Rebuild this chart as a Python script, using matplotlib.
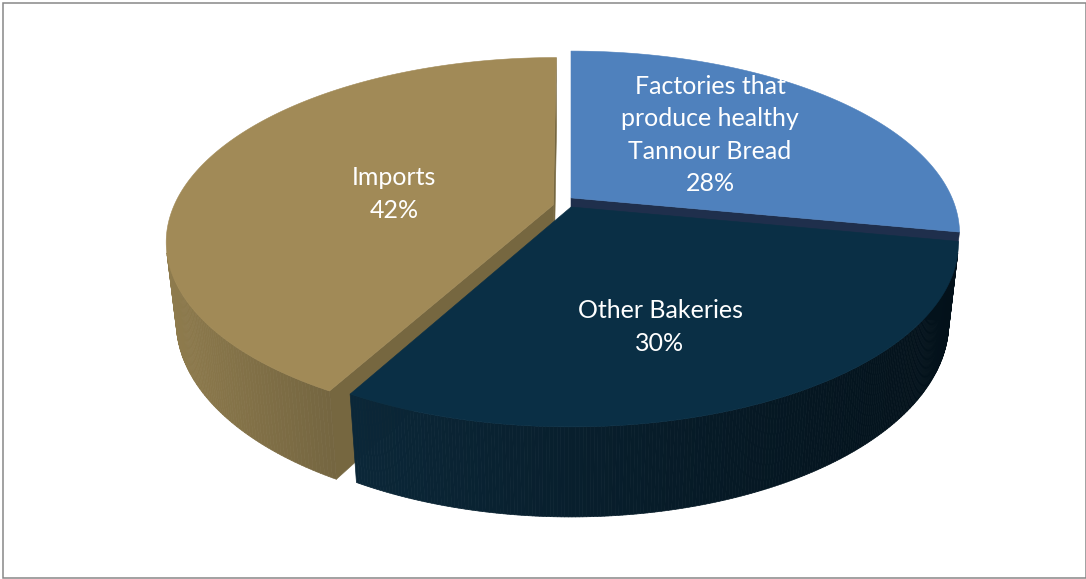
import numpy as np
import matplotlib
matplotlib.use("Agg")
import matplotlib.pyplot as plt
from matplotlib.patches import Polygon, Rectangle
from matplotlib.collections import PolyCollection
from matplotlib.colors import to_rgb

# ---- data ----
categories = ["Factories that\nproduce healthy\nTannour Bread", "Other Bakeries", "Imports"]
shares = [28, 30, 42]

# ---- styling ----
top_colors = ["#4F81BD", "#0A2F45", "#A18A57"]
side_left = ["#3E6696", "#0B2738", "#8E7B4D"]
side_right = ["#2A4A70", "#03111A", "#756641"]
radial_colors = ["#1F2F4C", "#08202F", "#766740"]
explode = [0.0, 0.0, 0.048]
lift = [0.027, 0.0, 0.0]
label_xy = [(710, 135), (660, 327), (394, 194)]

W, H = 1086, 579
fig = plt.figure(figsize=(W / 100, H / 100), dpi=100)
ax = fig.add_axes([0, 0, 1, 1])
ax.set_xlim(0, W)
ax.set_ylim(H, 0)
ax.axis("off")

# perspective camera looking down at the disc
elev = np.radians(27.75)
s, c = np.sin(elev), np.cos(elev)
dist = 4.527
focal = 1720.0
cx, cy = 571.0, 207.0
thick = 0.238
cam = np.array([0.0, -dist * c, dist * s])


def project(X, Y, Z):
    X, Y, Z = np.asarray(X, float), np.asarray(Y, float), np.asarray(Z, float)
    z = dist + Y * c - Z * s
    return cx + focal * X / z, cy - focal * (Y * s + Z * c) / z


def mix(a, b, t):
    a, b = np.array(to_rgb(a)), np.array(to_rgb(b))
    return tuple(a + (b - a) * t)


total = float(sum(shares))
bounds = np.concatenate([[0.0], np.cumsum(shares) / total * 360.0])

# back-to-front drawing order
for i in [0, 2, 1]:
    th0, th1 = np.radians(bounds[i]), np.radians(bounds[i + 1])
    mid = 0.5 * (th0 + th1)
    ox, oy = explode[i] * np.sin(mid), explode[i] * np.cos(mid)
    ztop, zbot = lift[i], -thick

    th = np.linspace(th0, th1, 240)
    rx, ry = ox + np.sin(th), oy + np.cos(th)

    # radial walls
    for edge, sign in ((th0, -1.0), (th1, 1.0)):
        n = sign * np.array([np.cos(edge), -np.sin(edge), 0.0])
        apex = np.array([ox, oy, 0.0])
        if np.dot(n, cam - apex) <= 0:
            continue
        ex, ey = ox + np.sin(edge), oy + np.cos(edge)
        X = [ox, ex, ex, ox]
        Y = [oy, ey, ey, oy]
        Z = [ztop, ztop, zbot, zbot]
        px, py = project(X, Y, Z)
        ax.add_patch(Polygon(np.c_[px, py], closed=True, facecolor=radial_colors[i],
                             edgecolor=radial_colors[i], lw=0.4))

    # outer curved wall as thin strips, shaded left-to-right
    quads, visible_x = [], []
    for a, b in zip(th[:-1], th[1:]):
        m = 0.5 * (a + b)
        n = np.array([np.sin(m), np.cos(m), 0.0])
        p = np.array([ox + np.sin(m), oy + np.cos(m), 0.0])
        if np.dot(n, cam - p) <= 0:
            continue
        X = [ox + np.sin(a), ox + np.sin(b), ox + np.sin(b), ox + np.sin(a)]
        Y = [oy + np.cos(a), oy + np.cos(b), oy + np.cos(b), oy + np.cos(a)]
        Z = [ztop, ztop, zbot, zbot]
        px, py = project(X, Y, Z)
        quads.append(np.c_[px, py])
        visible_x.append(px.mean())
    if quads:
        vx = np.array(visible_x)
        span = max(vx.max() - vx.min(), 1.0)
        cols = [mix(side_left[i], side_right[i], (x - vx.min()) / span) for x in vx]
        ax.add_collection(PolyCollection(quads, facecolors=cols, edgecolors=cols, linewidths=0.5))

    # top face
    px, py = project(np.r_[ox, rx], np.r_[oy, ry], np.full(len(rx) + 1, ztop))
    ax.add_patch(Polygon(np.c_[px, py], closed=True, facecolor=top_colors[i],
                         edgecolor=top_colors[i], lw=0.4))

# data labels
for name, val, (lx, ly) in zip(categories, shares, label_xy):
    ax.text(lx, ly, f"{name}\n{val}%", color="white", fontsize=18,
            family=["Lato", "DejaVu Sans"], ha="center", va="center",
            multialignment="center", linespacing=1.5)

# chart frame
ax.add_patch(Rectangle((2.5, 3.0), 1083.0, 574.5, fill=False, edgecolor="#878787", lw=1.1))

fig.savefig("out.png", dpi=100)
